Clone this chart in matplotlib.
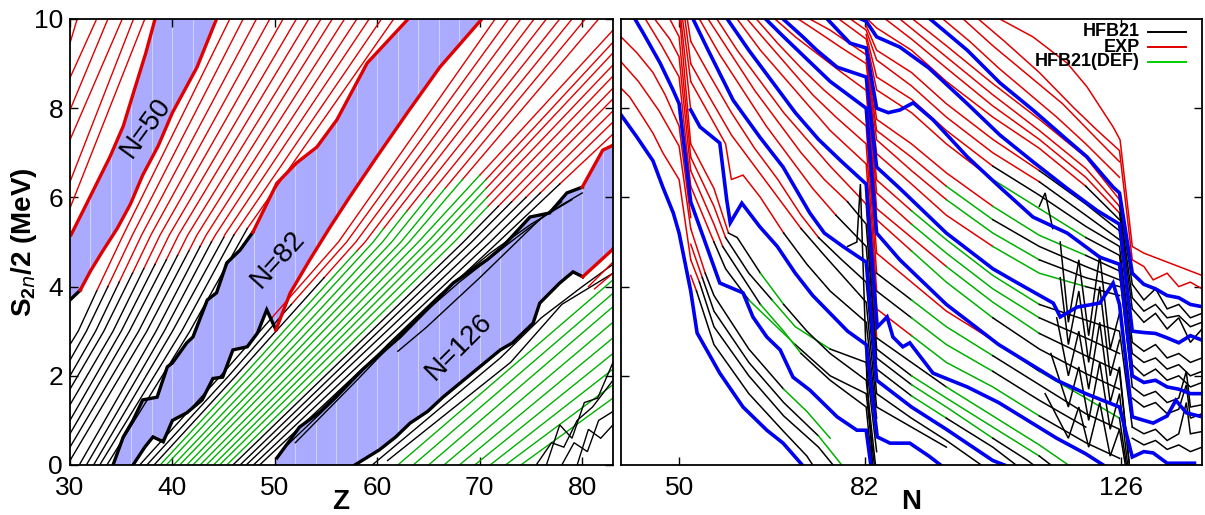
import matplotlib
matplotlib.use("Agg")
import matplotlib.pyplot as plt
from matplotlib.patches import Polygon

plt.rcParams["font.family"] = ["Liberation Sans", "DejaVu Sans"]
plt.rcParams["mathtext.fontset"] = "custom"
plt.rcParams["mathtext.rm"] = "Liberation Sans:bold"
plt.rcParams["mathtext.bf"] = "Liberation Sans:bold"

RED = "#e00000"
GREEN = "#00b000"
BLUE = "#0000f0"
BAND = "#aaaaff"
COLORS = {"r": RED, "k": "k", "g": GREEN, "b": BLUE}

# ---------------- left panel: isotones, (Z, S2n/2) ----------------
N50 = [(30.1, 5.16), (31.8, 5.94), (33.9, 6.91), (35.2, 7.6), (36.2, 8.35),
       (37.4, 9.24), (38.3, 10.0)]
N52_BLACK = [(30.0, 3.7), (31.0, 3.92)]
N52_RED = [(31.0, 3.92), (32.0, 4.35), (33.2, 4.8), (34.6, 5.3), (35.9, 5.85),
           (37.1, 6.5), (38.6, 7.15), (40.0, 7.9), (42.4, 8.92), (44.3, 10.0)]
N82_BLACK = [(34.2, 0.0), (35.2, 0.63), (36.15, 1.0), (37.1, 1.46), (38.5, 1.52),
             (39.5, 2.2), (40.0, 2.29), (41.4, 2.74), (42.0, 2.87), (43.4, 3.7),
             (44.3, 3.86), (45.3, 4.53), (46.6, 4.82), (47.85, 5.22)]
N82_RED = [(47.85, 5.22), (50.2, 6.32), (52.1, 6.77), (54.1, 7.13), (56.05, 7.74),
           (59.0, 9.01), (63.0, 10.0)]
N84_BLACK = [(36.15, 0.0), (37.3, 0.4), (38.1, 0.63), (39.1, 0.52), (40.0, 1.0),
             (41.4, 1.17), (42.9, 1.46), (43.95, 1.94), (44.9, 1.97), (45.9, 2.58),
             (47.3, 2.65), (48.3, 2.96), (49.2, 3.48), (50.1, 3.03)]
N84_RED = [(50.1, 3.03), (51.5, 3.86), (53.4, 4.6), (55.4, 5.34), (57.3, 6.01),
           (59.95, 6.91), (62.9, 7.89), (66.1, 8.92), (70.2, 10.0)]
N126_BLACK = [(50.2, 0.16), (52.4, 0.85), (54.4, 1.19), (58.6, 2.15), (62.2, 2.87),
              (67.4, 4.08), (70.7, 4.6), (72.2, 4.89), (74.9, 5.56), (76.8, 5.65),
              (78.5, 6.1), (80.0, 6.23)]
N126_RED = [(80.0, 6.23), (82.0, 7.06), (83.0, 7.17)]
N128_BLACK = [(57.8, 0.0), (60.2, 0.34), (61.8, 0.63), (63.2, 0.94), (64.9, 1.2),
              (66.4, 1.52), (72.0, 2.58), (73.2, 2.74), (75.2, 3.18), (75.85, 3.63),
              (77.8, 4.08), (79.1, 4.33), (80.05, 4.22)]
N128_RED = [(80.05, 4.22), (82.9, 4.82), (83.0, 4.85)]
N126_THIN = [
    [(51.0, 0.4), (56.0, 1.5), (61.0, 2.7), (66.0, 3.8), (71.0, 4.75), (75.0, 5.4),
     (79.0, 5.95)],
    [(52.0, 0.5), (58.0, 1.9), (63.0, 3.1), (68.0, 4.1), (73.0, 5.0), (77.0, 5.7),
     (80.0, 6.1)],
    [(62.0, 2.55), (64.8, 3.09), (70.0, 4.2), (76.1, 5.56), (78.0, 5.9)],
]

A_START_S = [9.46, 8.68, 7.96, 7.29, 6.35, 5.76]
A_END_Z = [30.7, 32.6, 33.7, 35.1, 36.2, 37.3]

B_TOP_Z = [45.6, 46.9, 48.2, 49.5, 50.8, 52.1, 53.3, 54.5, 55.6, 56.8, 58.0,
           59.2, 60.4, 61.6]
B_MID_Z = [35.2, 36.1, 37.0, 37.9, 38.8, 39.7, 40.6, 41.5, 42.4, 43.3, 44.2,
           45.1, 46.0, 46.9]
B_SPLIT = [(32.6, 3.9), (33.7, 4.0), (34.8, 4.1), (36.1, 4.3), (37.2, 4.4),
           (38.3, 4.5), (39.4, 4.6), (40.5, 4.7), (41.6, 4.8), (42.7, 4.9),
           (43.8, 5.0), (45.0, 5.1), (46.0, 5.16), (47.3, 5.3)]
B_LOW_Z = [30.8, 31.6, 32.5, 33.3, 34.2, 35.0, 35.8, 36.7, 37.5, 38.4, 39.2,
           40.0, 40.9, 41.7]
B_END = [(30, 2.7), (30, 2.35), (30, 2.0), (30, 1.7), (30, 1.35), (30, 1.0),
         (30, 0.7), (30, 0.4), (30, 0.1), (30.9, 0), (31.6, 0), (32.3, 0),
         (32.9, 0), (33.6, 0)]

C_END = [(71.5, 10), (72.8, 10), (74.0, 10), (75.3, 10), (76.5, 10), (77.8, 10),
         (79.0, 10), (80.3, 10), (81.6, 10), (83, 9.75), (83, 9.48), (83, 9.24),
         (83, 8.97), (83, 8.72), (83, 8.45), (83, 8.21), (83, 7.94), (83, 7.69),
         (83, 7.42)]
C_SPLIT = [(49.7, 3.3), (51.6, 3.6), (54.8, 4.2), (58.0, 4.8), (60.6, 5.3),
           (62.9, 5.7), (64.9, 6.0), (66.6, 6.2), (68.3, 6.4), (70.0, 6.5),
           (70.6, 6.4), (70.6, 6.2), (70.7, 6.0), (70.8, 5.8), (71.8, 5.8),
           (73.1, 5.9), (74.5, 6.0), (75.9, 6.1), (77.8, 6.3)]
C_MID_Z = [56.2, 57.0, 57.9, 58.8, 59.6, 60.5, 61.4, 62.3, 63.1, 64.0, 64.9,
           65.7, 66.6, 67.5, 68.4, 69.2, 70.1, 71.0, 71.8]
C_LOW_Z = [44.7, 45.5, 46.2, 46.9, 47.6, 48.4, 49.1, 49.8, 50.5, 51.3, 52.0,
           52.7, 53.4, 54.2, 54.9, 55.6, 56.3, 57.1, 57.8]
C_BOT_Z = [36.8, 37.5, 38.2, 38.8, 39.4, 40.1, 40.7, 41.4, 42.0, 42.7, 43.3,
           44.0, 44.6, 45.3, 45.9, 46.6, 47.2, 47.9, 48.5]
C_LOWER_COLOR = "kkkgggggggggggkkkkk"

D_GREEN_START = [62.0, 63.5, 65.0, 66.5, 68.0, 69.5, 71.0, 72.5, 74.0]
D_GREEN_END_S = [4.15, 3.85, 3.55, 3.2, 2.85, 2.5, 2.15, 1.8, 1.5]
D_BLACK = [
    [(59.5, 0.0), (66.0, 1.25), (72.0, 2.4), (76.0, 3.3), (80.0, 4.0), (83.0, 4.5)],
    [(61.0, 0.1), (67.0, 1.2), (73.0, 2.3), (78.0, 3.6), (83.0, 4.3)],
    [(75.5, 0.0), (77.0, 0.5), (78.2, 0.4), (79.5, 1.0), (81.0, 1.3), (83.0, 1.9)],
    [(76.5, 0.0), (77.8, 0.9), (79.0, 0.6), (80.2, 1.4), (81.5, 1.5), (83.0, 2.3)],
    [(78.0, 0.0), (79.2, 0.5), (80.5, 0.3), (81.6, 1.0), (83.0, 1.2)],
    [(79.5, 0.0), (80.6, 0.8), (81.8, 0.6), (83.0, 0.9)],
]
D_RED = [[(80.6, 4.0), (83.0, 4.55)], [(81.2, 3.95), (83.0, 4.3)]]

# ---------------- right panel: isotopic chains, (N, S2n/2) ----------------
R_BLUE = [
    [(40.0, 7.85), (42.75, 7.35), (45.5, 6.82), (47.2, 6.23), (49.0, 5.65),
     (50.0, 5.2), (52.0, 3.9), (53.1, 2.96), (57.0, 2.06), (61.0, 1.3),
     (65.1, 0.78), (67.9, 0.49), (71.2, 0.0)],
    [(42.4, 10.0), (43.8, 9.69), (46.7, 9.02), (48.95, 8.41), (50.0, 8.1),
     (52.0, 5.9), (57.0, 4.08), (61.0, 3.86), (62.7, 3.32), (65.1, 2.87),
     (67.4, 2.58), (69.6, 1.97), (72.5, 1.68), (77.2, 1.08), (80.6, 0.78),
     (82.2, 0.78), (83.0, 0.0)],
    [(52.0, 7.96), (53.6, 7.58), (57.0, 7.22), (58.2, 5.94), (58.8, 5.43),
     (60.8, 5.87), (63.9, 5.34), (66.9, 4.9), (70.0, 4.3), (73.0, 3.8),
     (76.0, 3.4), (79.0, 3.0), (82.2, 2.7), (84.1, 0.63), (86.3, 0.49),
     (89.7, 0.49), (93.0, 0.2), (95.0, 0.0)],
    [(52.4, 10.0), (55.0, 9.3), (59.3, 8.18), (63.9, 7.35), (67.9, 6.68),
     (72.5, 5.65), (75.0, 5.2), (78.2, 4.9), (82.2, 4.55), (84.0, 1.9),
     (90.0, 1.3), (96.0, 0.8), (104.0, 0.1), (106.0, 0.0)],
    [(58.3, 10.0), (62.0, 9.3), (66.0, 8.6), (70.0, 7.9), (74.0, 7.3),
     (78.0, 6.8), (82.2, 6.3), (84.1, 3.09), (85.8, 3.32), (86.8, 2.87),
     (88.5, 2.65), (89.7, 2.74), (93.7, 2.06), (95.4, 1.97), (99.6, 1.75),
     (105.0, 1.4), (110.0, 1.0), (115.0, 0.6), (120.0, 0.25), (123.0, 0.0)],
    [(64.9, 10.0), (68.0, 9.6), (72.0, 9.1), (76.0, 8.6), (82.2, 8.0),
     (84.0, 5.2), (86.0, 4.9), (88.0, 4.6), (92.0, 4.1), (96.0, 3.6),
     (100.0, 3.2), (105.0, 2.7), (110.0, 2.3), (115.0, 1.9), (120.0, 1.6),
     (125.8, 1.3), (128.0, 0.18), (130.0, 0.3), (131.6, 0.27), (134.0, 0.04),
     (137.0, 0.04), (138.7, 0.04)],
    [(67.9, 10.0), (71.3, 9.6), (73.7, 9.3), (77.2, 8.92), (82.2, 8.7),
     (84.0, 6.68), (88.0, 6.2), (92.0, 5.7), (96.0, 5.2), (100.0, 4.8),
     (104.0, 4.4), (108.0, 4.1), (114.4, 3.63), (115.6, 3.32), (118.5, 3.54),
     (122.4, 3.63), (124.7, 4.08), (125.8, 3.6), (128.0, 1.08), (130.0, 1.0),
     (131.6, 0.94), (134.0, 1.1), (135.5, 1.45), (137.3, 1.17), (140.0, 1.08)],
    [(75.5, 10.0), (79.4, 9.46), (82.2, 9.35), (84.0, 8.0), (86.0, 7.9),
     (88.0, 7.96), (90.3, 8.12), (93.7, 7.74), (99.6, 6.91), (105.2, 6.23),
     (110.9, 5.56), (116.8, 5.2), (122.4, 4.66), (125.8, 4.5), (128.0, 2.0),
     (130.0, 1.85), (132.0, 1.9), (134.0, 1.75), (136.0, 1.7), (138.0, 1.6),
     (140.0, 1.6)],
    [(81.3, 10.0), (82.2, 9.95), (84.0, 9.6), (88.0, 9.37), (93.0, 8.9),
     (99.6, 8.1), (105.2, 7.4), (110.9, 6.8), (116.8, 6.2), (122.0, 5.7),
     (125.8, 5.4), (128.0, 3.0), (130.0, 2.97), (132.0, 2.95), (134.0, 2.85),
     (136.0, 2.74), (138.0, 2.9), (140.0, 2.8)],
    [(93.2, 10.0), (99.6, 9.3), (105.2, 8.57), (110.9, 7.96), (116.8, 7.29),
     (120.2, 6.91), (124.7, 6.23), (125.8, 6.1), (128.0, 4.3), (130.0, 4.05),
     (132.0, 3.95), (134.0, 3.8), (136.0, 3.75), (138.0, 3.6), (140.0, 3.55)],
]

# thin chains: colour code per segment (single letter = whole line)
R_THIN = [
    # N < 50
    ("r", [(40, 8.45), (41.5, 8.25), (43.3, 7.89), (45.5, 7.44), (47.2, 7.0),
           (50, 6.4), (52, 4.6)]),
    ("r", [(40, 9.04), (43, 8.6), (46.5, 7.95), (50, 7.15), (52, 5.3)]),
    ("r", [(40, 9.6), (42.75, 9.24), (45.5, 8.8), (47.6, 8.3), (50, 7.6),
           (52, 5.55)]),
    ("r", [(44.2, 10), (47, 9.4), (50, 8.7), (52, 6.25)]),
    ("r", [(45.8, 10), (48.4, 9.55), (50, 9.15), (52, 6.6)]),
    ("r", [(48.4, 10), (50, 9.6), (52, 6.9)]),
    ("r", [(50.1, 10), (52, 7.2)]),
    ("r", [(50.3, 10), (52, 7.96)]),
    ("r", [(50.6, 10), (52, 8.6)]),
    ("r", [(51.0, 10), (52, 9.0)]),
    ("r", [(51.4, 10), (52, 9.5)]),
    # 52 < N < 82
    ("rkkkkk", [(52, 4.25), (53, 3.9), (56, 2.7), (62, 1.6), (68, 0.75), (72, 0.2),
                (73, 0)]),
    ("rkkkkk", [(52, 4.6), (53.5, 4.1), (56, 3.1), (62, 2.0), (68, 1.1), (74, 0.4),
                (76.5, 0)]),
    ("rkkkkg", [(52, 4.95), (54, 4.2), (56, 3.45), (62, 2.3), (68, 1.4),
                (74, 0.65), (78, 0)]),
    ("rkkkgg", [(52, 5.3), (54.5, 4.3), (56, 3.8), (62, 2.6), (68, 1.7),
                (72, 1.2), (76, 0.6), (79.5, 0)]),
    ("rkkggkkk", [(52, 6.25), (56, 5.0), (58, 4.4), (62, 3.7), (66, 3.2),
                  (70, 2.7), (76, 2.0), (82.2, 1.6), (83.6, 0)]),
    ("rrkkggkkk", [(52, 6.6), (56, 5.4), (57.5, 4.9), (60, 4.4), (64, 3.6),
                   (68, 3.0), (71, 2.5), (76, 1.9), (82.2, 1.3), (83.2, 0)]),
    ("rrkkggkkk", [(52, 6.9), (56, 5.8), (58, 5.1), (62, 4.3), (66, 3.7),
                   (70, 3.1), (76, 2.6), (82.2, 2.3), (84, 0.3)]),
    ("rrkkgkkkk", [(52, 7.2), (56, 6.2), (58.5, 5.2), (60, 5.1), (64, 4.3),
                   (68, 3.6), (72, 3.0), (76, 2.5), (82.2, 1.9), (83.8, 0)]),
    ("rrrrrrkkkk", [(52, 8.6), (55, 7.9), (58, 7.2), (59, 6.4), (61, 6.5),
                    (64, 6.0), (68, 5.2), (72, 4.5), (76, 3.9), (82.2, 3.2),
                    (84, 1.05), (90, 0.6), (96, 0.15), (98, 0)]),
    ("rrrrrkkkkk", [(52, 9.0), (55, 8.3), (59, 7.4), (63, 6.7), (67, 6.0),
                    (71, 5.3), (75, 4.7), (82.2, 3.65), (84, 1.3), (90, 0.85),
                    (96, 0.4), (100, 0)]),
    ("rrrrrrkkkkkk", [(52, 9.5), (55, 8.8), (59, 7.9), (63, 7.1), (67, 6.4),
                      (71, 5.6), (74, 5.1), (78, 4.6), (82.2, 4.1), (84, 1.6),
                      (90, 1.05), (96, 0.55), (102, 0)]),
    ("rrrrrrkkkgkk", [(53.5, 10), (57, 9.2), (61, 8.4), (65, 7.6), (69, 6.9),
                      (73, 6.2), (77, 5.6), (82.2, 4.9), (84, 2.15), (90, 1.55),
                      (96, 1.05), (104, 0.4), (108, 0)]),
    ("rrrrrrkkkggkk", [(55, 10), (59, 9.2), (63, 8.4), (67, 7.7), (71, 7.0),
                       (75, 6.4), (79, 5.9), (82.2, 5.4), (84, 2.4), (90, 1.8),
                       (96, 1.3), (104, 0.6), (110, 0.1), (111, 0)]),
    ("rrrrrrkkgggk", [(56.5, 10), (60, 9.3), (64, 8.6), (68, 7.9), (72, 7.3),
                      (76, 6.7), (82.2, 5.85), (84, 2.6), (90, 2.0), (96, 1.5),
                      (104, 0.85), (112, 0.2), (114, 0)]),
    ("rkkgggk", [(82.2, 6.05), (84, 2.85), (90, 2.3), (96, 1.75), (104, 1.1),
                 (112, 0.45), (117, 0)]),
    ("rrrrrrrgggkk", [(60, 10), (64, 9.3), (68, 8.7), (72, 8.1), (76, 7.5),
                      (82.2, 6.75), (84, 3.5), (90, 2.9), (96, 2.3), (104, 1.75),
                      (112, 1.1), (120, 0.5), (125.8, 0.15)]),
    ("rrrrrrkggkk", [(61.7, 10), (65, 9.5), (69, 8.9), (73, 8.3), (77, 7.8),
                     (82.2, 7.2), (84, 3.9), (90, 3.3), (96, 2.7), (104, 2.1),
                     (112, 1.45), (120, 0.85), (125.8, 0.5)]),
    ("rrrrrkggkkk", [(63.3, 10), (67, 9.45), (71, 8.9), (75, 8.4), (82.2, 7.6),
                     (84, 4.3), (90, 3.7), (96, 3.1), (104, 2.45), (112, 1.8),
                     (120, 1.15), (125.8, 0.8)]),
    ("rrrrkggkkk", [(82.2, 7.8), (84, 4.75), (90, 4.1), (96, 3.45), (104, 2.8),
                    (112, 2.1), (120, 1.5), (125.8, 1.05), (127.0, 0)]),
    ("rrrrrrggkkk", [(66.5, 10), (70, 9.6), (74, 9.2), (78, 8.8), (82.2, 8.4),
                     (84, 5.5), (90, 4.8), (96, 4.1), (104, 3.3), (112, 2.6),
                     (120, 2.05), (125.8, 1.7), (127.3, 0)]),
    ("rrrggkkk", [(82.2, 8.5), (84, 5.75), (90, 5.1), (96, 4.45), (104, 3.65),
                  (112, 2.95), (120, 2.45), (125.8, 2.1), (127.5, 0)]),
    ("rrgggkk", [(82.2, 8.6), (84, 6.1), (90, 5.4), (96, 4.75), (104, 3.95),
                 (112, 3.3), (120, 2.85), (125.8, 2.5), (128, 0.6)]),
    ("rrgggkkk", [(82.2, 8.65), (84, 6.39), (90, 5.7), (96, 5.05), (104, 4.25),
                  (112, 3.6), (120, 3.25), (125.8, 3.0), (128, 0.85)]),
    ("rrrrrrrggkk", [(70.5, 10), (74, 9.7), (78, 9.35), (82.2, 9.0), (84, 6.98),
                     (90, 6.3), (96, 5.6), (104, 4.9), (112, 4.3), (120, 4.0),
                     (125.8, 3.8)]),
    ("rrrggkk", [(82.2, 9.1), (84, 7.29), (90, 6.6), (96, 5.95), (104, 5.2),
                 (112, 4.6), (120, 4.2), (125.8, 4.0), (128, 1.5)]),
    ("rrrrrgkkk", [(72.5, 10), (76, 9.75), (82.2, 9.2), (84, 7.5), (90, 6.9),
                   (96, 6.25), (104, 5.5), (112, 4.9), (120, 4.45), (125.8, 4.15)]),
    ("rrrrggkk", [(82.2, 9.3), (84, 7.75), (90, 7.2), (96, 6.55), (104, 5.8),
                  (112, 5.15), (120, 4.7), (125.8, 4.35), (128, 1.75)]),
    ("rrrrrggkk", [(77.5, 10), (82.2, 9.55), (84, 8.41), (90, 7.9), (96, 7.2),
                   (104, 6.4), (112, 5.75), (120, 5.1), (125.8, 4.7), (128, 2.25)]),
    ("rrrrkkkk", [(82.2, 9.65), (84, 8.7), (90, 8.2), (96, 7.5), (104, 6.7),
                  (112, 6.05), (120, 5.35), (125.8, 4.9), (128, 2.5)]),
    ("rrrrrrkkk", [(79.5, 10), (82.2, 9.75), (84, 9.08), (90, 8.5), (96, 7.8),
                   (104, 7.0), (112, 6.35), (120, 5.6), (125.8, 5.05)]),
    ("rrrrrkkk", [(82.2, 9.85), (84, 9.3), (90, 8.8), (96, 8.1), (104, 7.3),
                  (112, 6.6), (120, 5.85), (125.8, 5.25), (128, 2.75)]),
    ("rrrrrrkk", [(82.4, 10), (84, 9.8), (90, 9.3), (96, 8.6), (104, 7.8),
                  (112, 7.1), (120, 6.25), (125.8, 5.5)]),
    ("rrrrrrk", [(85.5, 10), (90, 9.55), (96, 8.9), (104, 8.05), (112, 7.3),
                 (120, 6.45), (125.8, 5.65), (128, 3.5)]),
    ("rrrrrk", [(88, 10), (96, 9.15), (104, 8.3), (112, 7.5), (120, 6.65),
                (125.8, 5.8), (128, 3.75)]),
    ("rrrrrk", [(90.2, 10), (96, 9.4), (104, 8.55), (112, 7.75), (120, 6.9),
                (125.8, 5.95), (128, 4.05)]),
    ("r", [(95.4, 10), (100, 9.5), (105, 8.9), (110, 8.35), (115, 7.8), (120, 7.2),
           (125.8, 6.45)]),
    ("r", [(98.9, 10), (104, 9.4), (110, 8.75), (116, 8.1), (122, 7.3),
           (125.8, 6.8)]),
    ("r", [(101.5, 10), (106, 9.5), (112, 8.8), (118, 8.0), (122, 7.5),
           (125.8, 7.05), (128, 4.6), (130, 4.45), (131.6, 4.15), (134, 4.3),
           (136, 4.0), (138, 4.1), (140, 3.95)]),
    ("r", [(105.2, 10), (110.9, 9.6), (116.8, 9.01), (120.2, 8.48), (124.7, 7.58),
           (125.9, 7.29), (128, 4.9), (130, 4.75), (132, 4.65), (134, 4.55),
           (136, 4.45), (138, 4.35), (140, 4.25)]),
    # spiky HFB21 chains near N = 82 and N = 126
    ("k", [(79, 4.9), (80.6, 5.0), (81.2, 6.3), (82.3, 2.0), (83.3, 0)]),
    ("k", [(115.6, 5.0), (117, 3.2), (118.8, 4.6), (120.5, 2.9), (122.4, 4.7),
           (124.2, 2.6), (125.8, 3.4)]),
    ("k", [(115.6, 4.2), (117, 2.7), (118.8, 3.9), (120.5, 2.3), (122.4, 4.0),
           (124.2, 2.0), (125.8, 2.8)]),
    ("k", [(115, 3.3), (117, 2.0), (118.8, 3.0), (120.5, 1.7), (122.4, 3.2),
           (124.2, 1.4), (125.8, 2.2), (127.5, 0)]),
    ("k", [(114, 2.5), (117, 1.3), (118.8, 2.2), (120.5, 1.0), (122.4, 2.3),
           (124.2, 0.8), (125.8, 1.6), (127.2, 0)]),
    ("k", [(113, 1.6), (117, 0.6), (118.8, 1.3), (120.5, 0.4), (122.4, 1.4),
           (124.2, 0.2), (125.8, 0.8), (126.8, 0)]),
    ("k", [(112, 5.8), (113, 6.1), (114.3, 5.3)]),
    # N > 126
    ("k", [(128, 4.05), (130, 3.7), (132, 3.95), (134, 3.5), (136, 3.6),
           (138, 3.3), (140, 3.4)]),
    ("k", [(128, 3.75), (130, 3.45), (132, 3.6), (134, 3.3), (136, 3.35),
           (138, 3.1), (140, 3.2)]),
    ("k", [(128, 3.5), (130, 3.2), (132, 3.4), (134, 3.05), (136, 3.3),
           (138, 2.75), (140, 3.05)]),
    ("k", [(128, 2.75), (130, 2.55), (132, 2.7), (134, 2.4), (136, 2.5),
           (138, 2.3), (140, 2.4)]),
    ("k", [(128, 2.5), (130, 2.3), (132, 2.4), (134, 2.15), (136, 2.25),
           (138, 2.0), (140, 2.1)]),
    ("k", [(128, 2.25), (130, 2.0), (132, 2.15), (134, 1.9), (136, 2.0),
           (138, 1.75), (140, 1.85)]),
    ("k", [(128, 1.75), (130, 1.55), (132, 1.65), (134, 1.4), (136, 1.5),
           (137.3, 2.1), (138, 1.3), (140, 1.35)]),
    ("k", [(128, 1.5), (130, 1.3), (132, 1.4), (134, 1.15), (136, 1.25),
           (137.3, 1.8), (138, 1.05), (140, 1.15)]),
    ("k", [(128, 0.85), (130, 0.7), (132, 0.8), (134, 0.55), (136, 0.7),
           (137.3, 1.4), (138, 0.7), (140, 0.75)]),
    ("k", [(128, 0.6), (130, 0.45), (132, 0.55), (134, 0.35), (136, 0.45),
           (138, 0.3), (140, 0.4)]),
]


def draw(ax, pts, color, lw=1.0, z=3):
    xs, ys = zip(*pts)
    ax.plot(xs, ys, color=color, lw=lw, zorder=z, solid_joinstyle="miter")


def draw_coded(ax, code, pts, lw=1.0, z=3):
    if len(code) == 1:
        code = code * (len(pts) - 1)
    i = 0
    while i < len(code):
        j = i
        while j < len(code) and code[j] == code[i]:
            j += 1
        draw(ax, pts[i:j + 1], COLORS[code[i]], lw, z)
        i = j


W, H = 1205, 515
fig = plt.figure(figsize=(W / 100, H / 100), dpi=100)
axl = fig.add_axes([70 / W, 50 / H, 543 / W, 446 / H])
axr = fig.add_axes([621 / W, 50 / H, 581 / W, 446 / H])

# ---- left panel ----
n52 = N52_BLACK + N52_RED[1:]
bands = [
    N50 + n52[::-1],
    N82_BLACK + N82_RED + (N84_BLACK + N84_RED)[::-1],
    [(50.0, 0.0)] + N126_BLACK + N126_RED + [(83.5, 7.17), (83.5, 4.85)]
    + (N128_BLACK + N128_RED)[::-1],
]
for poly in bands:
    patch = Polygon(poly, closed=True, facecolor=BAND, edgecolor="none", zorder=1)
    axl.add_patch(patch)
    for z in range(30, 84, 2):
        ln = axl.axvline(z, color="white", lw=0.8, alpha=0.45, zorder=1.5)
        ln.set_clip_path(patch)

for s0, z1 in zip(A_START_S, A_END_Z):
    draw(axl, [(30, s0), (z1, 10)], RED)

for i in range(len(B_TOP_Z)):
    top = (B_TOP_Z[i], 10.0)
    mid = (B_MID_Z[i], 5.16)
    sp = B_SPLIT[i]
    low = (B_LOW_Z[i], 3.0)
    if sp[1] < mid[1]:
        draw(axl, [top, mid, sp], RED)
    else:
        draw(axl, [top, sp], RED)
    draw(axl, [sp, low, B_END[i]], "k")

for i in range(len(C_END)):
    sp = C_SPLIT[i]
    mid = (C_MID_Z[i], 5.0)
    low = (C_LOW_Z[i], 2.0)
    bot = (C_BOT_Z[i], 0.0)
    col = COLORS[C_LOWER_COLOR[i]]
    if sp[1] < 5.0:
        draw(axl, [C_END[i], mid, sp], RED)
        draw(axl, [sp, low, bot], col)
    else:
        draw(axl, [C_END[i], sp], RED)
        draw(axl, [sp, mid, low, bot], col)

for z0, s1 in zip(D_GREEN_START, D_GREEN_END_S):
    draw(axl, [(z0, 0.0), (83.0, s1)], GREEN)
for pts in D_BLACK + N126_THIN:
    draw(axl, pts, "k")
for pts in D_RED:
    draw(axl, pts, RED)

for pts in (N52_BLACK, N82_BLACK, N84_BLACK, N126_BLACK, N128_BLACK):
    draw(axl, pts, "k", lw=2.4, z=5)
for pts in (N50, N52_RED, N82_RED, N84_RED, N126_RED, N128_RED):
    draw(axl, pts, RED, lw=2.4, z=5)

lab = dict(fontsize=20, color="k", ha="center", va="center", zorder=6)
axl.text(37.4, 7.56, "N=50", rotation=54, **lab)
axl.text(50.3, 4.6, "N=82", rotation=48, **lab)
axl.text(67.95, 2.65, "N=126", rotation=45, **lab)

axl.set_xlim(30, 83)
axl.set_ylim(0, 10)
axl.set_xticks([30, 40, 50, 60, 70, 80])
axl.set_yticks([0, 2, 4, 6, 8, 10])

# ---- right panel ----
for code, pts in R_THIN:
    draw_coded(axr, code, pts, lw=1.1)
for pts in R_BLUE:
    draw(axr, pts, BLUE, lw=2.6, z=5)

axr.set_xlim(40, 140)
axr.set_ylim(0, 10)
axr.set_xticks([50, 82, 126])
axr.set_yticks([2, 4, 6, 8])
axr.tick_params(labelleft=False)

for ax in (axl, axr):
    ax.tick_params(direction="in", length=6, width=1, top=True, right=True,
                   labelsize=19, pad=5)
    ax.tick_params(axis="x", pad=8)
    for sp in ax.spines.values():
        sp.set_linewidth(1.3)
        sp.set_zorder(8)

leg_items = [("HFB21", "k"), ("EXP", RED), ("HFB21(DEF)", "#00d000")]
for (txt, col), yf in zip(leg_items, [0.971, 0.937, 0.904]):
    axr.text(0.893, yf, txt, transform=axr.transAxes, ha="right", va="center",
             fontsize=13, fontweight="bold", zorder=9)
    axr.plot([0.907, 0.972], [yf, yf], transform=axr.transAxes, color=col,
             lw=1.4, zorder=9)

fig.text(341 / W, 1 - 502 / H, "Z", ha="center", va="center", fontsize=20,
         fontweight="bold")
fig.text(911 / W, 1 - 502 / H, "N", ha="center", va="center", fontsize=20,
         fontweight="bold")
fig.text(24 / W, 1 - 242 / H, r"S$_{2n}$/2 (MeV)", rotation=90, ha="center",
         va="center", fontsize=20, fontweight="bold")

fig.savefig("out.png", dpi=100)
